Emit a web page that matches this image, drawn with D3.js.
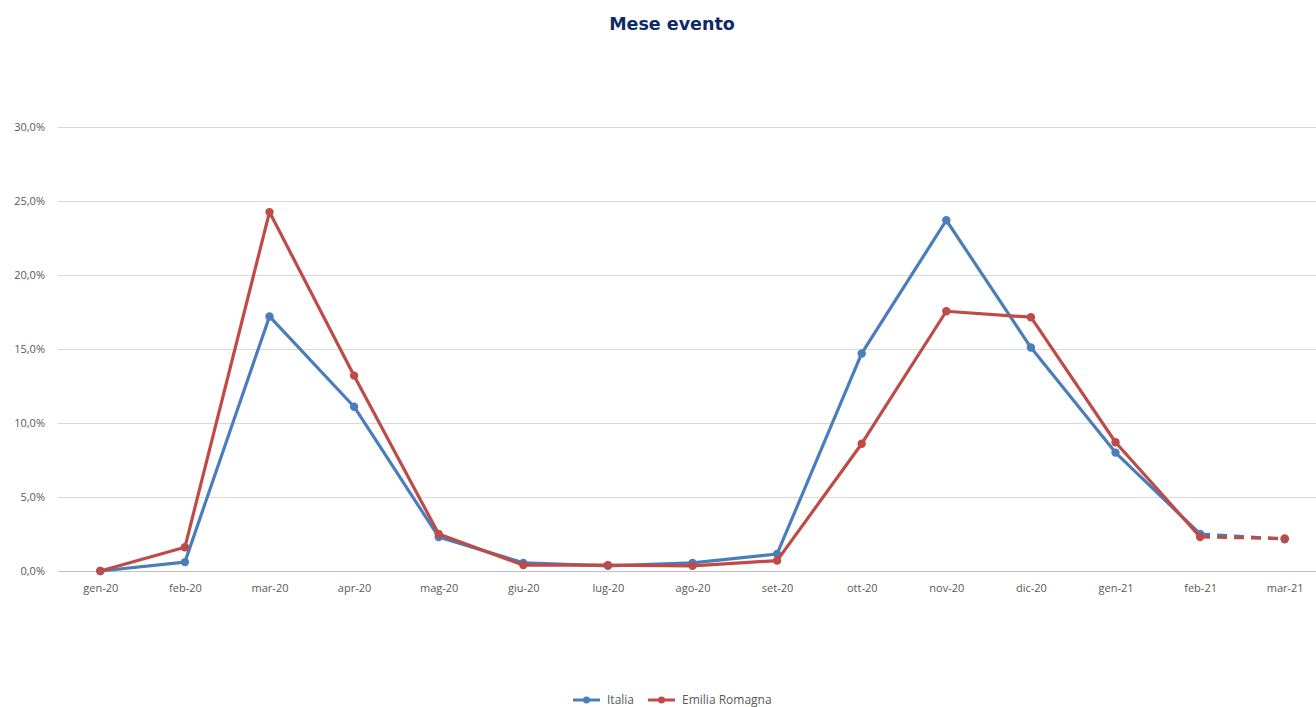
<!DOCTYPE html>
<html>
<head>
<meta charset="utf-8">
<script src="https://cdn.jsdelivr.net/npm/d3@7"></script>
<style>
  html, body { margin: 0; padding: 0; background: #fff; overflow: hidden; }
</style>
</head>
<body>
<div id="chart"></div>
<script>
// Data
var months = ["gen-20", "feb-20", "mar-20", "apr-20", "mag-20", "giu-20", "lug-20", "ago-20",
  "set-20", "ott-20", "nov-20", "dic-20", "gen-21", "feb-21", "mar-21"];
var italia = [0.0, 0.6, 17.2, 11.1, 2.3, 0.55, 0.35, 0.55, 1.15, 14.7, 23.7, 15.1, 8.0, 2.5, 2.15];
var emilia = [0.0, 1.6, 24.25, 13.2, 2.5, 0.4, 0.4, 0.35, 0.7, 8.6, 17.55, 17.15, 8.7, 2.3, 2.2];
var yTicks = [0, 5, 10, 15, 20, 25, 30];

var series = [
  { name: "Italia", values: italia, colour: "#4a7ebb" },
  { name: "Emilia Romagna", values: emilia, colour: "#be4b48" }
];

var width = 1316, height = 707;
var margin = { top: 127, right: -11, bottom: 136, left: 58 };
var innerW = width - margin.left - margin.right;
var innerH = height - margin.top - margin.bottom;

var svg = d3.select("#chart").append("svg")
  .attr("width", width).attr("height", height);

// Title
svg.append("text")
  .attr("x", 672).attr("y", 30)
  .attr("text-anchor", "middle")
  .attr("font-family", "'DejaVu Sans', Verdana, sans-serif")
  .attr("font-size", 17.5).attr("font-weight", 700)
  .attr("fill", "#0f2a6b")
  .text("Mese evento");

var g = svg.append("g")
  .attr("transform", "translate(" + margin.left + "," + margin.top + ")");

var x = d3.scalePoint().domain(months).range([0, innerW]).padding(0.5);
var y = d3.scaleLinear().domain([0, 30]).range([innerH, 0]);

var fmt = function (d) { return d.toFixed(1).replace(".", ",") + "%"; };

// Gridlines + y labels
var yAxis = d3.axisLeft(y).tickValues(yTicks).tickFormat(fmt).tickSize(-innerW).tickPadding(13);
g.append("g")
  .call(yAxis)
  .call(function (gg) { gg.select(".domain").remove(); })
  .call(function (gg) { gg.selectAll(".tick line").attr("stroke", "#d9d9d9").attr("stroke-width", 1); })
  .call(function (gg) {
    gg.selectAll(".tick text").attr("font-family", "'Open Sans', 'Liberation Sans', sans-serif")
      .attr("font-size", 11).attr("fill", "#595959");
  });

// X axis
var xAxis = d3.axisBottom(x).tickSize(0).tickPadding(13);
g.append("g")
  .attr("transform", "translate(0," + innerH + ")")
  .call(xAxis)
  .call(function (gg) { gg.select(".domain").attr("stroke", "#bfbfbf"); })
  .call(function (gg) {
    gg.selectAll(".tick text").attr("font-family", "'Open Sans', 'Liberation Sans', sans-serif")
      .attr("font-size", 11).attr("fill", "#595959");
  });

var line = d3.line()
  .x(function (d) { return x(d.m); })
  .y(function (d) { return y(d.v); });

series.forEach(function (s) {
  var pts = months.map(function (m, i) { return { m: m, v: s.values[i] }; });
  var solid = pts.slice(0, pts.length - 1);
  var dashed = pts.slice(pts.length - 2);

  g.append("path")
    .datum(solid)
    .attr("fill", "none").attr("stroke", s.colour)
    .attr("stroke-width", 3.2).attr("stroke-linejoin", "round").attr("stroke-linecap", "round")
    .attr("d", line);

  g.append("path")
    .datum(dashed)
    .attr("fill", "none").attr("stroke", s.colour)
    .attr("stroke-width", 3.2).attr("stroke-dasharray", "10,7")
    .attr("d", line);

  g.selectAll(null)
    .data(pts).join("circle")
      .attr("cx", function (d) { return x(d.m); })
      .attr("cy", function (d) { return y(d.v); })
      .attr("r", 4.2)
      .attr("fill", s.colour);
});

// Legend
var legend = svg.append("g").attr("transform", "translate(573,700)");
var lx = 0;
series.forEach(function (s) {
  var item = legend.append("g").attr("transform", "translate(" + lx + ",0)");
  item.append("line").attr("x1", 0).attr("x2", 27).attr("y1", 0).attr("y2", 0)
    .attr("stroke", s.colour).attr("stroke-width", 3);
  item.append("circle").attr("cx", 13.5).attr("cy", 0).attr("r", 3.5).attr("fill", s.colour);
  var t = item.append("text").attr("x", 34).attr("y", 4)
    .attr("font-family", "'Open Sans', 'Liberation Sans', sans-serif")
    .attr("font-size", 12).attr("fill", "#595959")
    .text(s.name);
  lx += 34 + t.node().getComputedTextLength() + 14;
});
</script>
</body>
</html>
